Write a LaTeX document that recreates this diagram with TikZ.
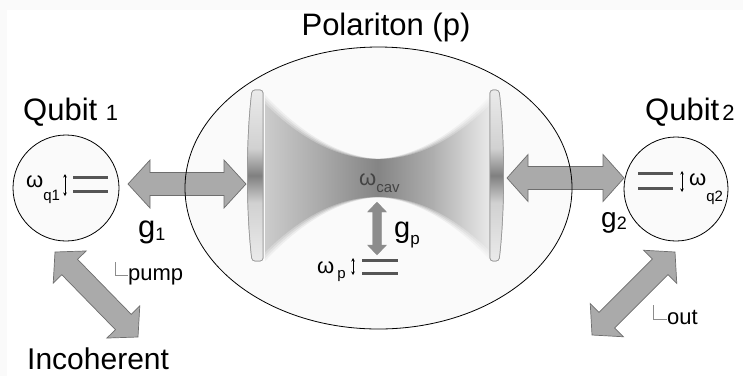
\documentclass[tikz,border=0pt]{standalone}
\usepackage{fontspec}
\setmainfont{Liberation Sans}
\usetikzlibrary{calc,arrows.meta,shapes.geometric}

\definecolor{arrowfill}{HTML}{AAAAAA}
\definecolor{arrowline}{HTML}{6E6E6E}
\definecolor{levelgray}{HTML}{555555}
\definecolor{bubble}{HTML}{FAFAFA}
\definecolor{cavtext}{HTML}{444444}

% mirror: dark band across the middle, light towards the ends
\pgfdeclareverticalshading{mirrorshade}{100bp}{color(0bp)=(black!8); color(25bp)=(black!8); color(42bp)=(black!18); color(50bp)=(black!50); color(58bp)=(black!18); color(75bp)=(black!8); color(100bp)=(black!8)}
% cavity mode: darkest at the waist, fading towards the mirrors
\pgfdeclarehorizontalshading{beamshade}{100bp}{color(0bp)=(black!20); color(25bp)=(black!20); color(38bp)=(black!34); color(50bp)=(black!48); color(62bp)=(black!32); color(75bp)=(black!8); color(100bp)=(black!8)}

% thick double-headed arrow between two coordinates
% #1,#2 tips; #3 head length; #4 shaft half-width; #5 head half-width; #6 style
\newcommand\fatarrow[6]{%
  \coordinate (#1-h) at ($(#1)!#3!(#2)$);
  \coordinate (#2-h) at ($(#2)!#3!(#1)$);
  \filldraw[#6] (#1)
    -- ($(#1-h)!#5!90:(#2)$) -- ($(#1-h)!#4!90:(#2)$)
    -- ($(#2-h)!#4!-90:(#1)$) -- ($(#2-h)!#5!-90:(#1)$)
    -- (#2)
    -- ($(#2-h)!#5!90:(#1)$) -- ($(#2-h)!#4!90:(#1)$)
    -- ($(#1-h)!#4!-90:(#2)$) -- ($(#1-h)!#5!-90:(#2)$)
    -- cycle;}

\tikzset{
  bigtext/.style={font=\fontsize{31}{31}\selectfont},
  bubblenode/.style={fill=bubble, inner sep=0pt},
  fatstyle/.style={fill=arrowfill, draw=arrowline, line width=0.7pt, line join=miter},
  couplestyle/.style={fill=black!45, draw=black!45, line width=0.3pt},
  level/.style={draw=levelgray, line width=3pt},
  splitting/.style={{Stealth[length=3.5pt,width=3.5pt]}-{Stealth[length=3.5pt,width=3.5pt]}, line width=0.8pt},
  mirror/.style={draw=black!40, line width=0.7pt, shading=mirrorshade},
  corner/.style={draw=black!45, line width=0.8pt},
}

\begin{document}
\begin{tikzpicture}[x=1pt,y=-1pt]
\useasboundingbox (0,0) rectangle (743,376);
\fill[black!2] (0,0) rectangle (743,376);
\fill[white] (7,10) rectangle (743,376);

% polariton bubble
\node[ellipse, bubblenode, minimum width=387pt, minimum height=282pt] (polariton) at (378.5,188) {};
\node[anchor=base, bigtext] (ptitle) at (386,35) {Polariton (p)};

% cavity mode between the mirrors: a few widening layers give it soft edges
\foreach \grow/\op in {8/0.2, 5/0.3, 2/0.45, -1/1} {
  \begin{scope}[transparency group, opacity=\op]
    \clip plot[domain=-113:113, samples=60] ({378+\x},{178-19-\grow*abs(\x)/113-0.0044*\x*\x})
       -- plot[domain=113:-113, samples=60] ({378+\x},{178+19+\grow*abs(\x)/113+0.0044*\x*\x}) -- cycle;
    \shade[shading=beamshade] (264,70) rectangle (491,280);
  \end{scope}
}

% mirrors
\shade[mirror, rounded corners=3pt] (252,90) .. controls (246,140) and (246,210) .. (252,261)
   -- (263,261) -- (263,90) -- cycle;
\draw[mirror, rounded corners=3pt, fill=none] (252,90) .. controls (246,140) and (246,210) .. (252,261)
   -- (263,261) -- (263,90) -- cycle;
\shade[mirror, rounded corners=3pt] (490,90) -- (490,261) -- (499,261)
   .. controls (505,210) and (505,140) .. (499,90) -- cycle;
\draw[mirror, rounded corners=3pt, fill=none] (490,90) -- (490,261) -- (499,261)
   .. controls (505,210) and (505,140) .. (499,90) -- cycle;

\node[anchor=base west, inner sep=0pt, text=cavtext] (wcav) at (359,185)
  {{\fontsize{22}{22}\selectfont ω}\raisebox{-7pt}{\fontsize{15}{15}\selectfont cav}};

% cavity -- emitter coupling
\coordinate (gptop) at (377,202);
\coordinate (gpbot) at (377,255);
\fatarrow{gptop}{gpbot}{10pt}{4.5pt}{9.5pt}{couplestyle}
\node[anchor=base west, inner sep=0pt, font=\fontsize{29}{29}\selectfont] (gplabel) at (394,237)
  {g\raisebox{-7pt}{\fontsize{17}{17}\selectfont p}};

% polariton levels
\node[anchor=base west, inner sep=0pt] (wp) at (317,273)
  {{\fontsize{22}{22}\selectfont ω}\kern3pt\raisebox{-5pt}{\fontsize{15}{15}\selectfont p}};
\draw[splitting] (353,258) -- (353,275);
\draw[level] (362,260) -- (398,260);
\draw[level] (362,273) -- (398,273);

% qubit 1
\node[circle, draw, line width=0.8pt, bubblenode, minimum size=106pt] (q1) at (66,188) {};
\node[anchor=base west, inner sep=0pt, bigtext] (q1label) at (23,120)
  {Qubit {\fontsize{22}{22}\selectfont 1}};
\node[anchor=base west, inner sep=0pt] (wq1) at (26,187)
  {{\fontsize{22}{22}\selectfont ω}\raisebox{-13pt}{\fontsize{15}{15}\selectfont q1}};
\draw[splitting] (65,174) -- (65,196);
\draw[level] (73,177) -- (108,177);
\draw[level] (73,191) -- (108,191);

% qubit 2
\node[circle, draw, line width=0.8pt, bubblenode, minimum size=104pt] (q2) at (676,189) {};
\node[anchor=base west, inner sep=0pt, bigtext] (q2label) at (645,120)
  {Qubit\kern3pt{\fontsize{22}{22}\selectfont 2}};
\node[anchor=base west, inner sep=0pt] (wq2) at (689,185)
  {{\fontsize{22}{22}\selectfont ω}\raisebox{-16pt}{\fontsize{15}{15}\selectfont q2}};
\draw[splitting] (682,171) -- (682,192);
\draw[level] (638,173) -- (673,173);
\draw[level] (638,188) -- (673,188);

% couplings to the cavity
\coordinate (g1a) at (128,184);
\coordinate (g1b) at (246,184);
\fatarrow{g1a}{g1b}{22pt}{11.5pt}{24pt}{fatstyle}
\node[anchor=base west, inner sep=0pt, font=\fontsize{31}{31}\selectfont] (g1label) at (138,237)
  {g\raisebox{-3pt}{\fontsize{18}{18}\selectfont 1}};

\coordinate (g2a) at (507,178);
\coordinate (g2b) at (624,178);
\fatarrow{g2a}{g2b}{21pt}{11.5pt}{23.5pt}{fatstyle}
\node[anchor=base west, inner sep=0pt, font=\fontsize{28}{28}\selectfont] (g2label) at (601,227)
  {g\raisebox{-2pt}{\fontsize{18}{18}\selectfont 2}};

% bubble outline on top of the arrows
\draw[line width=0.8pt] (polariton.center) ellipse [x radius=193.5pt, y radius=141pt];

% incoherent pumping
\coordinate (pumptip) at (55,252);
\coordinate (pumpend) at (138,337);
\fatarrow{pumptip}{pumpend}{21pt}{11pt}{23pt}{fatstyle}
\draw[corner] (115,262) -- (115,275) -- (128,275);
\node[anchor=base west, inner sep=0pt, font=\fontsize{22}{22}\selectfont] (pumplabel) at (128,280) {pump};
\node[anchor=base west, inner sep=0pt, font=\fontsize{30}{30}\selectfont] (incoh) at (27,369) {Incoherent};

% output
\coordinate (outtip) at (675,252);
\coordinate (outend) at (592,335);
\fatarrow{outtip}{outend}{21pt}{11pt}{23.5pt}{fatstyle}
\draw[corner] (653,305) -- (653,319) -- (667,319);
\node[anchor=base west, inner sep=0pt, font=\fontsize{22}{22}\selectfont] (outlabel) at (667,324) {out};
\end{tikzpicture}
\end{document}
